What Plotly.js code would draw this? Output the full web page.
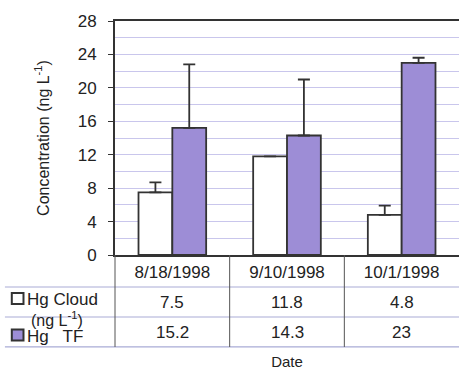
<!DOCTYPE html>
<html><head><meta charset="utf-8">
<script src="https://cdn.plot.ly/plotly-3.0.1.min.js"></script>
<style>html,body{margin:0;padding:0;background:#fff}</style>
</head><body><div id="chart" style="width:459px;height:370px"></div>
<script>
const dates = ["8/18/1998", "9/10/1998", "10/1/1998"];
const hgCloud = [7.5, 11.8, 4.8];
const hgTF = [15.2, 14.3, 23];
const hgCloudErr = [1.2, 0, 1.1];
const hgTFErr = [7.6, 6.7, 0.6];
const cloudLabel = "Hg Cloud";
const tfLabel = "Hg   TF";
const unitLabel = "(ng L<sup>-1</sup>)";

const font = "Liberation Sans, Arial, sans-serif";
const ink = "#222";
const purple = "#9d8dd6";

const traces = [
  {type: "bar", x: dates, y: hgCloud, name: cloudLabel,
   marker: {color: "#fff", line: {color: "#333", width: 1.8}},
   error_y: {type: "data", symmetric: false, array: hgCloudErr, arrayminus: hgCloudErr.map(() => 0),
             color: "#333", thickness: 1.8, width: 6}},
  {type: "bar", x: dates, y: hgTF, name: tfLabel,
   marker: {color: purple, line: {color: "#333", width: 1.8}},
   error_y: {type: "data", symmetric: false, array: hgTFErr, arrayminus: hgTFErr.map(() => 0),
             color: "#333", thickness: 1.8, width: 6}}
];

const rowY = {line1: -0.1368, cloud: -0.205, line2: -0.265, unit: -0.2735, tf: -0.331, line3: -0.393};
const annotations = [];
dates.forEach((d, i) => {
  annotations.push({x: d, y: rowY.cloud, xref: "x", yref: "paper", yanchor: "middle", text: String(hgCloud[i]), showarrow: false, font: {family: font, size: 17, color: ink}});
  annotations.push({x: d, y: rowY.tf, xref: "x", yref: "paper", yanchor: "middle", text: String(hgTF[i]), showarrow: false, font: {family: font, size: 17, color: ink}});
});
annotations.push({x: -0.263, y: -0.19, xref: "paper", yref: "paper", xanchor: "left", yanchor: "middle", text: cloudLabel, showarrow: false, font: {family: font, size: 17, color: ink}});
annotations.push({x: -0.25, y: rowY.unit, xref: "paper", yref: "paper", xanchor: "left", yanchor: "middle", text: unitLabel, showarrow: false, font: {family: font, size: 16, color: ink}});
annotations.push({x: -0.263, y: -0.348, xref: "paper", yref: "paper", xanchor: "left", yanchor: "middle", text: tfLabel, showarrow: false, font: {family: font, size: 17, color: ink}});

const tableLine = {color: "#a9abd6", width: 1.2};
const shapes = [
  {type: "line", xref: "paper", yref: "paper", x0: -0.32, x1: 1, y0: rowY.line1, y1: rowY.line1, line: tableLine},
  {type: "line", xref: "paper", yref: "paper", x0: -0.32, x1: 1, y0: rowY.line2, y1: rowY.line2, line: tableLine},
  {type: "line", xref: "paper", yref: "paper", x0: -0.32, x1: 1, y0: rowY.line3, y1: rowY.line3, line: tableLine},
  {type: "line", xref: "paper", yref: "paper", x0: 0, x1: 0, y0: 0, y1: rowY.line3, line: {color: "#555", width: 1}},
  {type: "line", xref: "x", yref: "paper", x0: 0.5, x1: 0.5, y0: 0, y1: rowY.line3, line: {color: "#555", width: 1}},
  {type: "line", xref: "x", yref: "paper", x0: 1.5, x1: 1.5, y0: 0, y1: rowY.line3, line: {color: "#555", width: 1}},
  {type: "rect", xref: "paper", yref: "paper", x0: -0.3, x1: -0.266, y0: -0.162, y1: -0.209, fillcolor: "#fff", line: {color: "#333", width: 2}},
  {type: "rect", xref: "paper", yref: "paper", x0: -0.3, x1: -0.266, y0: -0.318, y1: -0.365, fillcolor: purple, line: {color: "#333", width: 2}}
];

const layout = {
  width: 459, height: 370,
  margin: {l: 115, r: 0, t: 21, b: 115},
  paper_bgcolor: "#fff", plot_bgcolor: "#fff",
  showlegend: false,
  barmode: "group", bargap: 0.41, bargroupgap: 0,
  font: {family: font, color: ink, size: 16},
  xaxis: {type: "category", showline: true, linecolor: "#333", linewidth: 2, mirror: true,
          ticks: "", tickfont: {size: 17, color: ink}, ticklabelstandoff: 1,
          title: {text: "Date", font: {size: 15, color: ink}, standoff: 83}},
  yaxis: {range: [0, 28], tickvals: [0, 4, 8, 12, 16, 20, 24, 28], showline: true, linecolor: "#333", linewidth: 2, mirror: true,
          ticks: "outside", ticklen: 5, tickcolor: "#333", tickfont: {size: 17, color: ink}, ticklabelstandoff: 8,
          showgrid: true, gridcolor: "#c9c6ec", gridwidth: 1,
          minor: {dtick: 2, showgrid: true, gridcolor: "#c9c6ec", gridwidth: 1},
          zeroline: false,
          title: {text: "Concentration (ng L<sup>-1</sup>)", font: {size: 16, color: ink}, standoff: 24}},
  annotations: annotations,
  shapes: shapes
};

Plotly.newPlot("chart", traces, layout, {displayModeBar: false, staticPlot: true});
</script></body></html>
